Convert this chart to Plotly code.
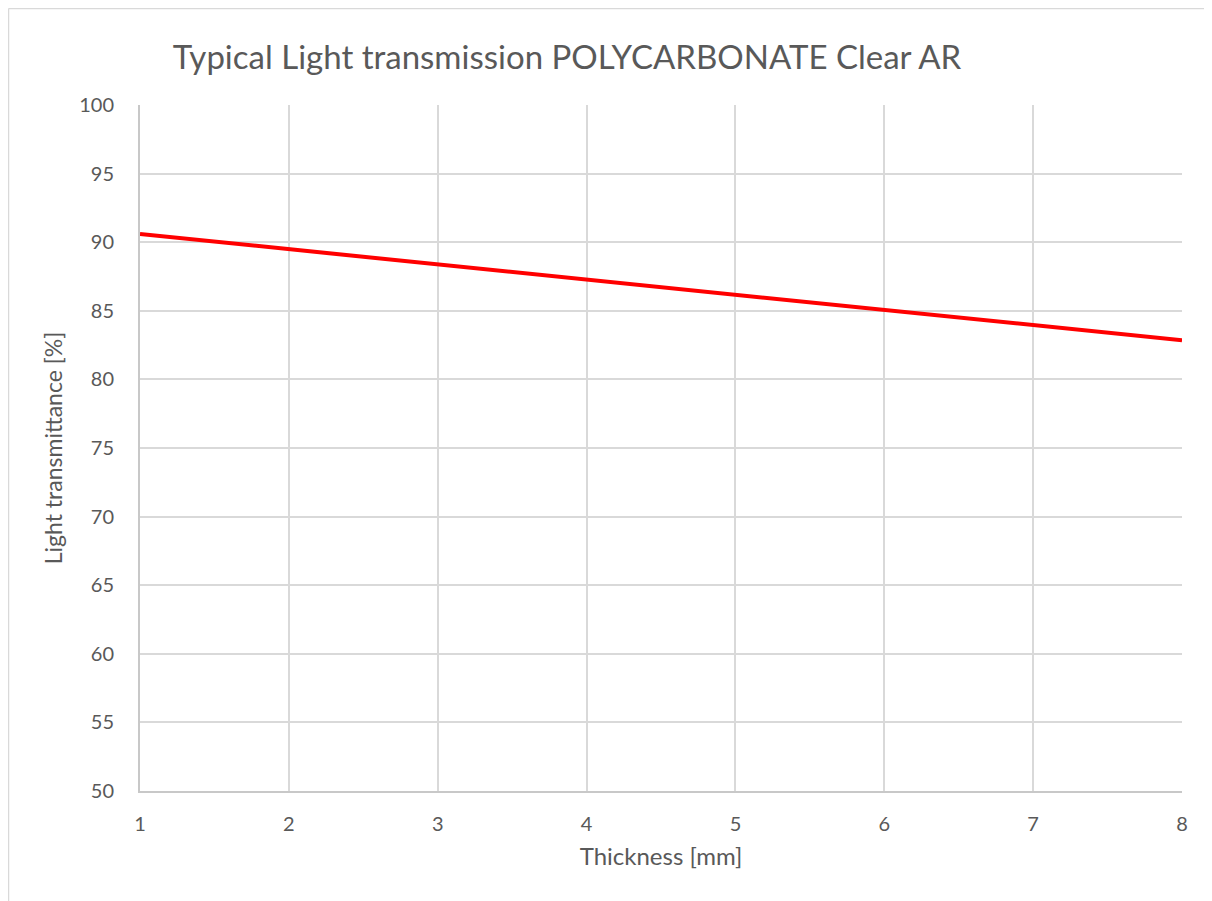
import plotly.graph_objects as go

thickness_mm = [1, 2, 3, 4, 5, 6, 7, 8]
transmittance = [90.6, 89.5, 88.4, 87.3, 86.2, 85.1, 84.0, 82.85]

title_text = "Typical Light transmission POLYCARBONATE Clear AR"
x_title = "Thickness [mm]"
y_title = "Light transmittance [%]"

FONT = "Lato, 'Open Sans', sans-serif"
TXT = "#595959"

fig = go.Figure()
fig.add_trace(go.Scatter(x=thickness_mm, y=transmittance, mode="lines",
                         line=dict(color="#ff0000", width=4), showlegend=False))

# page body has an 8px margin; compensate so the plot lands where the reference is
OFF = 8
W, H = 1212 - OFF, 901 - OFF
L, R, T, B = 140 - OFF, 30, 105 - OFF, 110
PW, PH = W - L - R, H - T - B
fig.update_layout(
    width=W, height=H,
    margin=dict(l=L, r=R, t=T, b=B),
    paper_bgcolor="white", plot_bgcolor="white",
    font=dict(family=FONT, color=TXT),
    title=dict(text=title_text, x=(567 - OFF) / W, xanchor="center", y=1 - (57 - OFF) / H, yanchor="middle",
               font=dict(family=FONT, size=33, color=TXT)),
    xaxis=dict(range=[1, 8], dtick=1, tick0=1, showgrid=True, gridcolor="#d9d9d9", gridwidth=2,
               showline=True, linecolor="#c8c8c8", linewidth=2, zeroline=False,
               ticks="", ticklabelstandoff=14, tickfont=dict(size=20, color=TXT),
               title=dict(text=x_title, font=dict(size=24, color=TXT), standoff=14)),
    yaxis=dict(range=[50, 100], dtick=5, showgrid=True, gridcolor="#d9d9d9", gridwidth=2,
               showline=True, linecolor="#c8c8c8", linewidth=2, zeroline=False,
               ticks="", ticklabelstandoff=20, tickfont=dict(size=20, color=TXT),
               title=dict(text=y_title, font=dict(size=23, color=TXT), standoff=10)),
    shapes=[
        dict(type="line", xref="paper", yref="paper", x0=-(L - 0.5) / PW, x1=1 + R / PW,
             y0=1 + (T - 0.5) / PH, y1=1 + (T - 0.5) / PH,
             line=dict(color="#d9d9d9", width=1.5)),
        dict(type="line", xref="paper", yref="paper", x0=-(L - 0.5) / PW, x1=-(L - 0.5) / PW,
             y0=-B / PH, y1=1 + (T - 0.5) / PH,
             line=dict(color="#d9d9d9", width=1.5)),
    ],
)
fig.write_html("out.html")
